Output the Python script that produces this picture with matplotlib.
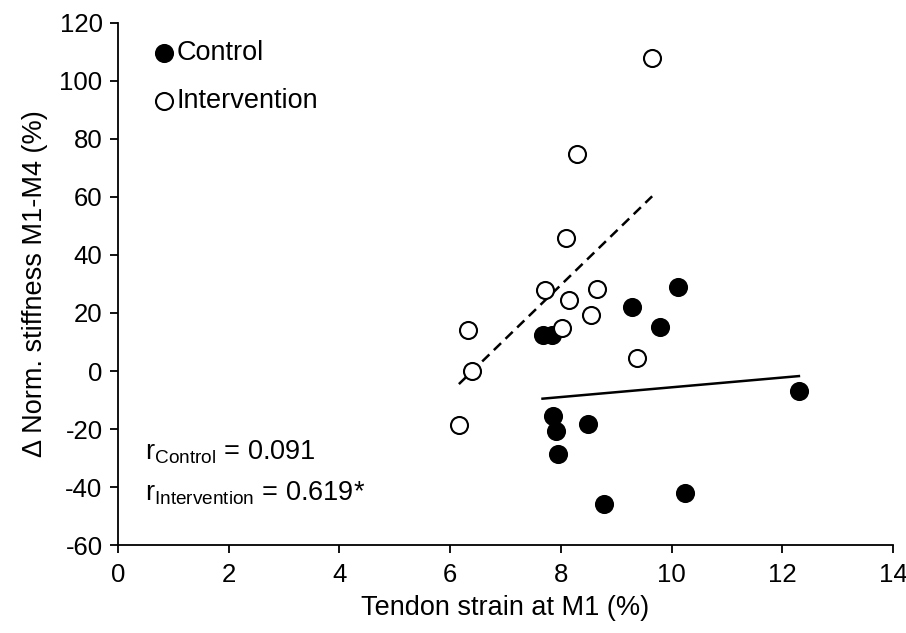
import numpy as np
import matplotlib.pyplot as plt

plt.rcParams['font.family'] = ['Liberation Sans', 'DejaVu Sans']
plt.rcParams['mathtext.fontset'] = 'custom'
plt.rcParams['mathtext.rm'] = 'Liberation Sans'
plt.rcParams['mathtext.it'] = 'Liberation Sans'
plt.rcParams['axes.unicode_minus'] = False

# Control group
control_x = [7.67, 7.85, 9.28, 10.12, 9.80, 12.30, 7.86, 7.92, 8.50, 7.95, 8.78, 10.24]
control_y = [12.3, 12.3, 22.2, 29.0, 15.1, -7.0, -15.4, -20.7, -18.3, -28.5, -46.0, -42.2]

# Intervention group
interv_x = [9.65, 8.29, 8.09, 7.72, 8.66, 8.14, 8.54, 8.02, 6.33, 6.39, 9.37, 6.16]
interv_y = [108.0, 74.8, 46.0, 27.8, 28.3, 24.4, 19.4, 14.9, 14.1, 0.0, 4.6, -18.6]

fs = 19.5

fig = plt.figure(figsize=(9.06, 6.33), dpi=100)
ax = fig.add_axes([0.130, 0.139, 0.8557, 0.8247])

ax.scatter(control_x, control_y, s=150, c='black', edgecolors='black',
           linewidths=1.5, label='Control', zorder=3)
ax.scatter(interv_x, interv_y, s=150, c='white', edgecolors='black',
           linewidths=1.5, label='Intervention', zorder=3)

# linear trend lines
for xs, ys, ls in [(control_x, control_y, '-'), (interv_x, interv_y, '--')]:
    k, b = np.polyfit(xs, ys, 1)
    xl = np.array([min(xs), max(xs)])
    ax.plot(xl, k * xl + b, color='black', linestyle=ls, linewidth=1.8,
            dashes=(4, 2.5) if ls == '--' else (None, None), zorder=2)

ax.set_xlim(0, 14)
ax.set_ylim(-60, 120)
ax.set_xticks(range(0, 15, 2))
ax.set_yticks(range(-60, 121, 20))
ax.spines['top'].set_visible(False)
ax.spines['right'].set_visible(False)
for s in ['left', 'bottom']:
    ax.spines[s].set_linewidth(1.3)
ax.tick_params(labelsize=18.5, length=6, width=1.3)
ax.tick_params(axis='x', pad=7)
ax.tick_params(axis='y', pad=5)

ax.set_xlabel('Tendon strain at M1 (%)', fontsize=fs, labelpad=6)
ax.set_ylabel('Δ Norm. stiffness M1-M4 (%)', fontsize=fs, labelpad=8)

ax.legend(loc='upper left', frameon=False, fontsize=fs, handletextpad=0.0,
          handlelength=0.9, labelspacing=0.82, borderaxespad=0.0,
          bbox_to_anchor=(0.03, 0.988), scatterpoints=1, markerscale=1.0)

ax.text(0.035, 0.178, r'r$_{\mathrm{Control}}$ = 0.091', transform=ax.transAxes,
        fontsize=fs, va='center')
ax.text(0.035, 0.10, r'r$_{\mathrm{Intervention}}$ = 0.619*', transform=ax.transAxes,
        fontsize=fs, va='center')

fig.savefig('out.png', dpi=100)
